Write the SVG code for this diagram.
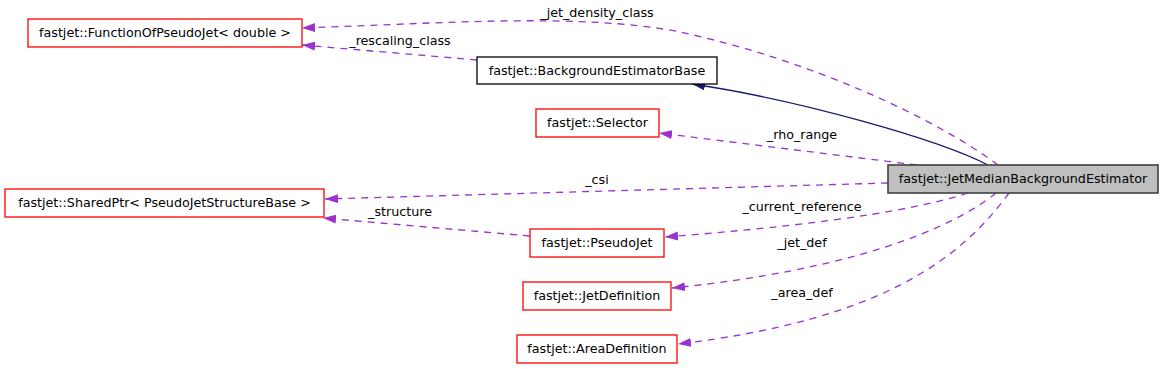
<svg xmlns="http://www.w3.org/2000/svg" width="1165" height="369" viewBox="0 0 1165 369">
<style>
text{font-family:"DejaVu Sans",sans-serif;font-size:12.7px;fill:#000}
.n{text-anchor:middle}
.red{fill:#fff;stroke:#ff0000;stroke-width:1.3}
.blk{fill:#fff;stroke:#000;stroke-width:1.3}
.main{fill:#bfbfbf;stroke:#404040;stroke-width:1.6}
.d{fill:none;stroke:#9a32cd;stroke-width:1.3;stroke-dasharray:7,6;marker-end:url(#pa)}
.inh{fill:none;stroke:#191970;stroke-width:1.3;marker-end:url(#ba)}
.l{text-anchor:middle}
</style>
<defs>
<marker id="pa" markerUnits="userSpaceOnUse" viewBox="0 0 13 9" refX="13" refY="4.5" markerWidth="13" markerHeight="9" orient="auto"><path d="M0,0 L13,4.5 L0,9 z" fill="#9a32cd"/></marker>
<marker id="ba" markerUnits="userSpaceOnUse" viewBox="0 0 13 9" refX="13" refY="4.5" markerWidth="13" markerHeight="9" orient="auto"><path d="M0,0 L13,4.5 L0,9 z" fill="#191970"/></marker>
</defs>
<rect width="1165" height="369" fill="#fff"/>
<g id="connectors">
<path class="d" d="M998,165 C935,118 810,60 680,32 C580,12 430,24 302,28"/>
<path class="d" d="M477,60 C420,55 360,50 302,45"/>
<path class="inh" d="M988,165 C940,140 800,100 692,84"/>
<path class="d" d="M917,165 L659,133"/>
<path class="d" d="M888,183 L325,199"/>
<path class="d" d="M530,236 L323,218"/>
<path class="d" d="M968,193 C900,215 780,228 665,237"/>
<path class="d" d="M996,193 C950,230 850,270 672,288"/>
<path class="d" d="M1009,193 C960,260 880,320 678,344"/>
<text class="l" x="597" y="16.5">_jet_density_class</text>
<text class="l" x="400" y="45">_rescaling_class</text>
<text class="l" x="802" y="139">_rho_range</text>
<text class="l" x="597" y="184">_csi</text>
<text class="l" x="400" y="216">_structure</text>
<text class="l" x="802" y="210.5">_current_reference</text>
<text class="l" x="802" y="247.3">_jet_def</text>
<text class="l" x="802" y="296.7">_area_def</text>
</g>
<g id="node-main"><rect class="main" x="888" y="165" width="270" height="28"/><text class="n" x="1023" y="183.3">fastjet::JetMedianBackgroundEstimator</text></g>
<g id="node-function"><rect class="red" x="28" y="19" width="274" height="28"/><text class="n" x="165" y="37.3">fastjet::FunctionOfPseudoJet&lt; double &gt;</text></g>
<g id="node-bgbase"><rect class="blk" x="477" y="57" width="240" height="27"/><text class="n" x="597" y="74.8">fastjet::BackgroundEstimatorBase</text></g>
<g id="node-selector"><rect class="red" x="536" y="109" width="123" height="28"/><text class="n" x="597.5" y="127.3">fastjet::Selector</text></g>
<g id="node-sharedptr"><rect class="red" x="5" y="189" width="319" height="28"/><text class="n" x="164.5" y="207.3">fastjet::SharedPtr&lt; PseudoJetStructureBase &gt;</text></g>
<g id="node-pseudojet"><rect class="red" x="530" y="229" width="134" height="28"/><text class="n" x="597" y="247.3">fastjet::PseudoJet</text></g>
<g id="node-jetdef"><rect class="red" x="523" y="282" width="148" height="28"/><text class="n" x="597" y="300.3">fastjet::JetDefinition</text></g>
<g id="node-areadef"><rect class="red" x="517" y="335" width="160" height="28"/><text class="n" x="597" y="353.3">fastjet::AreaDefinition</text></g>
</svg>
